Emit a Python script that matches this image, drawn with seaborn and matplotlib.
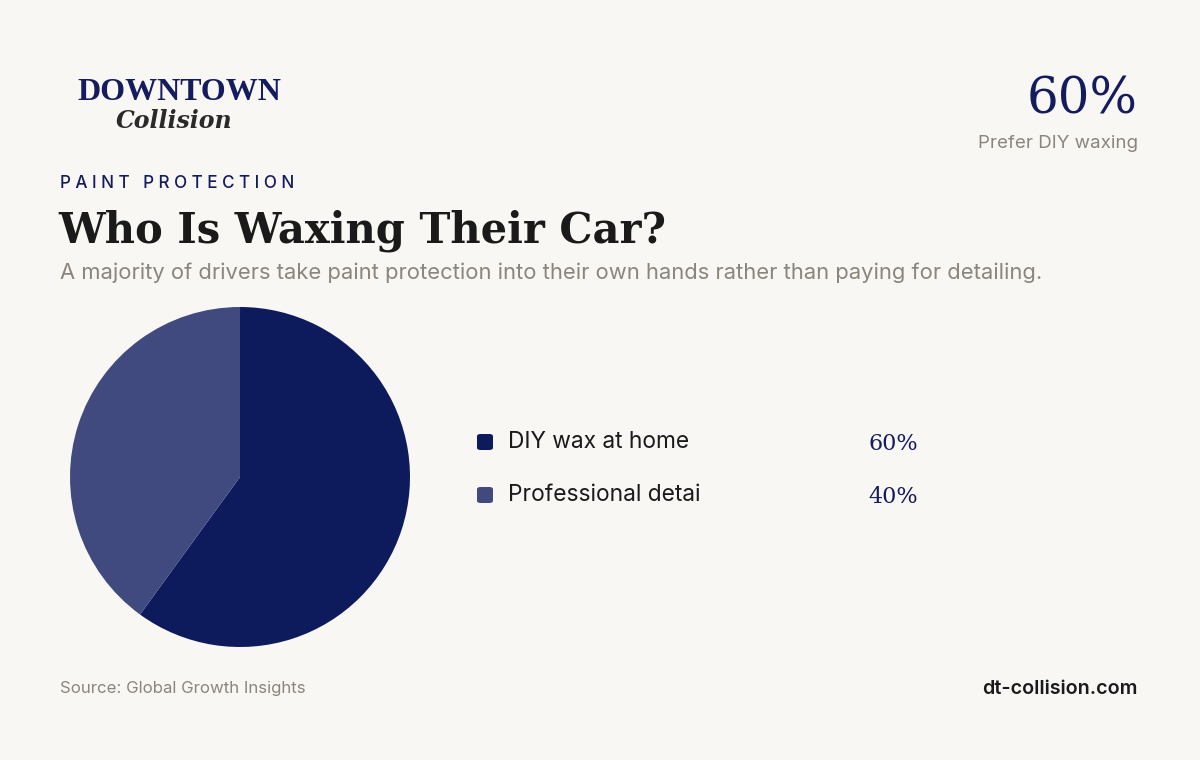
import matplotlib
matplotlib.use("Agg")
import matplotlib.pyplot as plt
import seaborn as sns

categories = ["DIY wax at home", "Professional detai"]
values = [60, 40]
labels = ["60%", "40%"]
colors = ["#0d1a5c", "#414a7e"]

sns.set_theme(style="white")
plt.rcParams['font.family'] = ['Inter', 'DejaVu Sans']
bg = "#f8f7f4"
W, H = 1200, 760
fig = plt.figure(figsize=(12, 7.6), dpi=100, facecolor=bg)

def T(x, y, s, **kw):
    fig.text(x / W, 1 - y / H, s, **kw)

# logo
T(77, 92, "DOWNTOWN", fontsize=23, fontweight='black', color="#141c5e", family=['Liberation Serif'], va='center', ha='left')
T(116, 121, "Collision", fontsize=17, fontstyle='italic', fontweight='bold', color="#2a2a2a", family=['DejaVu Serif'], va='center', ha='left')

# headline stat
T(1138, 100, "60%", fontsize=36, color="#141c5e", family=['DejaVu Serif'], va='center', ha='right')
T(1138, 143, "Prefer DIY waxing", fontsize=13.5, color="#8c857c", va='center', ha='right')

T(60, 184, "P A I N T   P R O T E C T I O N", fontsize=12.3, color="#141c5e", fontweight='medium', va='center', ha='left')
T(58, 231, "Who Is Waxing Their Car?", fontsize=30, fontweight='bold', color="#1a1a1a", family=['DejaVu Serif'], va='center', ha='left')
T(60, 273, "A majority of drivers take paint protection into their own hands rather than paying for detailing.",
  fontsize=15.8, color="#8c857c", va='center', ha='left')

ax = fig.add_axes([70 / W, 1 - 647 / H, 340 / W, 340 / H])
ax.set_facecolor(bg)
ax.pie(values, colors=colors, startangle=90, counterclock=False, radius=1.0,
       wedgeprops=dict(linewidth=0))
ax.set_aspect('equal')
ax.set_xlim(-1, 1); ax.set_ylim(-1, 1)
ax.axis('off')

for i, (c, lab, col) in enumerate(zip(categories, labels, colors)):
    y = 442 + i * 53
    fig.patches.append(matplotlib.patches.FancyBboxPatch(((477) / W, 1 - (y + 8) / H), 16 / W, 16 / H,
                       boxstyle="round,pad=0,rounding_size=0.003", transform=fig.transFigure,
                       facecolor=col, edgecolor='none'))
    T(508, y, c, fontsize=16.4, color="#1a1a1a", va='center', ha='left')
    T(918, y + 2, lab, fontsize=16, color="#141c5e", family=['DejaVu Serif'], va='center', ha='right')

T(60, 689, "Source: Global Growth Insights", fontsize=12.1, color="#8c857c", va='center', ha='left')
T(1138, 689, "d t - c o l l i s i o n . c o m".replace(" ", "\u200a") if False else "dt-collision.com",
  fontsize=14.2, fontweight='semibold', color="#1a1a1a", va='center', ha='right')

fig.savefig("out.png", dpi=100, facecolor=bg)
